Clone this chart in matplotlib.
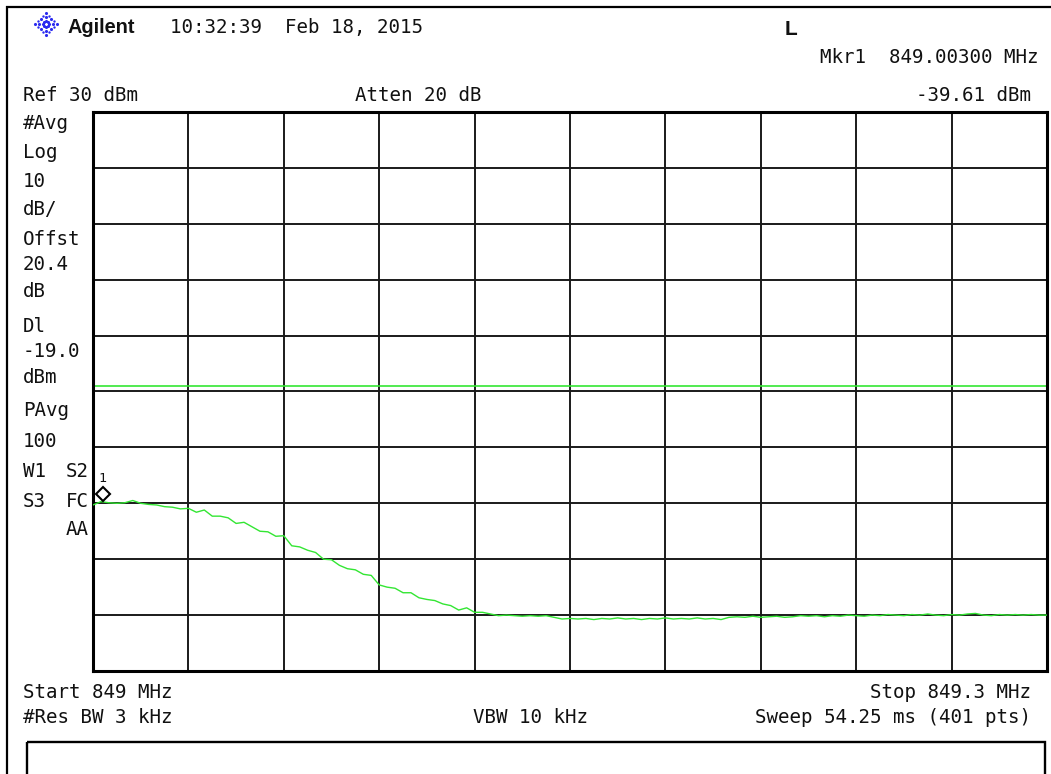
import numpy as np
import matplotlib.pyplot as plt
from matplotlib.transforms import offset_copy

W, H = 1051, 774

# instrument settings
start_mhz = 849.0
stop_mhz = 849.3
ref_dbm = 30
db_per_div = 10
display_line_dbm = -19.0
marker_mhz = 849.00300
marker_dbm = -39.61

# trace, evenly spaced from start to stop
trace_dbm = [
    -40.3, -39.7, -39.9, -40.0, -39.9, -39.5, -40.0, -40.2, -40.3, -40.6,
    -40.7, -41.0, -40.9, -41.6, -41.2, -42.3, -42.3, -42.6, -43.6, -43.4,
    -44.2, -45.0, -45.1, -45.9, -45.8, -47.6, -47.8, -48.4, -48.8, -50.0,
    -50.1, -51.1, -51.7, -51.9, -52.7, -52.9, -54.6, -55.0, -55.2, -56.0,
    -56.0, -56.9, -57.2, -57.4, -58.0, -58.3, -59.1, -58.7, -59.5, -59.5,
    -59.8, -60.1, -60.0, -60.1, -60.2, -60.1, -60.2, -60.1, -60.4, -60.7,
    -60.6, -60.7, -60.6, -60.8, -60.6, -60.7, -60.5, -60.7, -60.6, -60.8,
    -60.6, -60.7, -60.5, -60.7, -60.6, -60.7, -60.5, -60.7, -60.6, -60.8,
    -60.4, -60.3, -60.4, -60.2, -60.4, -60.3, -60.2, -60.4, -60.3, -60.1,
    -60.2, -60.1, -60.3, -60.1, -60.2, -60.0, -60.1, -60.2, -60.0, -60.1,
    -59.9, -60.0, -60.1, -59.9, -60.0, -59.8, -60.0, -60.1, -59.9, -60.0,
    -59.8, -59.7, -60.0, -60.1, -59.9, -60.0, -59.9, -60.0, -59.9, -60.0,
    -60.0,
]

timestamp = "10:32:39  Feb 18, 2015"
mkr_freq_text = "Mkr1  849.00300 MHz"
mkr_level_text = "-39.61 dBm"
ref_text = "Ref 30 dBm"
atten_text = "Atten 20 dB"
left_labels = ["#Avg", "Log", "10", "dB/", "Offst", "20.4", "dB",
               "Dl", "-19.0", "dBm", "PAvg", "100", "W1", "S3"]
left_baselines = [129, 158, 187, 215, 245, 270, 297, 332, 357, 383,
                  416, 447, 477, 507]
right_col_labels = ["S2", "FC", "AA"]
right_col_baselines = [477, 507, 535]
start_text = "Start 849 MHz"
stop_text = "Stop 849.3 MHz"
rbw_text = "#Res BW 3 kHz"
vbw_text = "VBW 10 kHz"
sweep_text = "Sweep 54.25 ms (401 pts)"

mono = 'DejaVu Sans Mono'
fs = 13.8
ink = '#111111'
green = '#33e633'

fig = plt.figure(figsize=(W / 100, H / 100), dpi=100)
fig.patch.set_facecolor('white')

# background layer in screen pixels
bg = fig.add_axes([0, 0, 1, 1])
bg.set_xlim(0, W)
bg.set_ylim(H, 0)
bg.axis('off')

# outer frame and the empty message box
bg.plot([6, W], [6.5, 6.5], color='black', lw=1.6, solid_capstyle='butt')
bg.plot([6.5, 6.5], [6, H], color='black', lw=1.6, solid_capstyle='butt')
bg.add_patch(plt.Rectangle((27, 742), 1018, 40, fill=False, ec='black', lw=1.7))

# Agilent spark logo
cx, cy = 46, 24
for ang in np.deg2rad(np.arange(0, 360, 45)):
    radii = [3, 7, 11] if np.isclose(np.sin(2 * ang), 0) else [3.5, 7.5]
    for r in radii:
        bg.scatter(cx + r * np.cos(ang), cy + r * np.sin(ang), s=5,
                   color='#2a2af0', lw=0)
for ang in np.deg2rad(np.arange(22.5, 360, 45)):
    bg.scatter(cx + 9 * np.cos(ang), cy + 9 * np.sin(ang), s=3,
               color='#2a2af0', lw=0)
bg.text(68, 33, "Agilent", family='Liberation Sans', weight='bold',
        fontsize=14.3, color=ink, va='baseline')
bg.text(170, 33, timestamp, family=mono, fontsize=fs, color=ink, va='baseline')
bg.text(785, 35, "L", family='Liberation Sans', weight='bold',
        fontsize=15, color=ink, va='baseline')

bg.text(1039, 63, mkr_freq_text, family=mono, fontsize=fs, color=ink,
        va='baseline', ha='right')
bg.text(1031, 101, mkr_level_text, family=mono, fontsize=fs, color=ink,
        va='baseline', ha='right')
bg.text(23, 101, ref_text, family=mono, fontsize=fs, color=ink, va='baseline')
bg.text(355, 101, atten_text, family=mono, fontsize=fs, color=ink, va='baseline')

for lab, yb in zip(left_labels, left_baselines):
    bg.text(23, yb, lab, family=mono, fontsize=fs, color=ink, va='baseline')
for lab, yb in zip(right_col_labels, right_col_baselines):
    bg.text(89, yb, lab, family=mono, fontsize=fs, color=ink, va='baseline',
            ha='right')

bg.text(23, 698, start_text, family=mono, fontsize=fs, color=ink, va='baseline')
bg.text(1031, 698, stop_text, family=mono, fontsize=fs, color=ink,
        va='baseline', ha='right')
bg.text(23, 723, rbw_text, family=mono, fontsize=fs, color=ink, va='baseline')
bg.text(473, 723, vbw_text, family=mono, fontsize=fs, color=ink, va='baseline')
bg.text(1031, 723, sweep_text, family=mono, fontsize=fs, color=ink,
        va='baseline', ha='right')

# graticule
ax = fig.add_axes([93 / W, 1 - 671 / H, (1047 - 93) / W, (671 - 112) / H])
ax.set_xlim(start_mhz, stop_mhz)
ax.set_ylim(ref_dbm - 10 * db_per_div, ref_dbm)
ax.set_xticks(np.linspace(start_mhz, stop_mhz, 11))
ax.set_yticks(np.arange(ref_dbm - 10 * db_per_div, ref_dbm + 1, db_per_div))
ax.tick_params(length=0, labelbottom=False, labelleft=False)
ax.grid(True, color='#1a1a1a', lw=1.4)
ax.set_axisbelow(True)
for sp in ax.spines.values():
    sp.set_linewidth(2.2)
    sp.set_color('black')

ax.axhline(display_line_dbm, color=green, lw=1.2, zorder=2)

freq = np.linspace(start_mhz, stop_mhz, len(trace_dbm))
ax.plot(freq, trace_dbm, color=green, lw=1.0, zorder=3)

# marker 1 sits just above the trace point
mk_trans = offset_copy(ax.transData, fig=fig, x=0, y=7, units='dots')
ax.plot([marker_mhz], [marker_dbm], marker='D', ms=7.5, mfc='white',
        mec='black', mew=1.5, transform=mk_trans, clip_on=False, zorder=4)
lbl_trans = offset_copy(ax.transData, fig=fig, x=0, y=19, units='dots')
ax.text(marker_mhz, marker_dbm, "1", family=mono, fontsize=9.5, color=ink,
        ha='center', va='baseline', transform=lbl_trans)

fig.savefig('out.png', dpi=100)
